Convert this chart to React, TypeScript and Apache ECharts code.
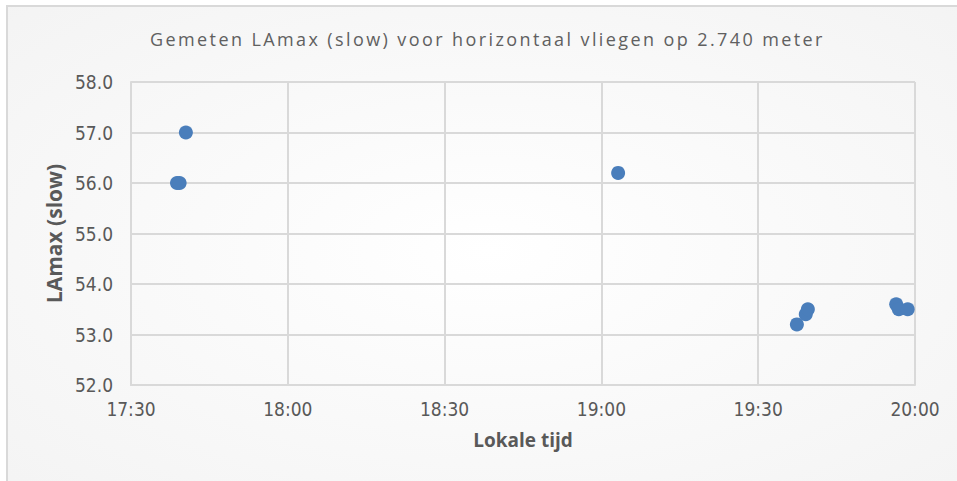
import React, { useEffect, useRef } from "react";
import * as echarts from "echarts";

// local time in minutes after midnight
const timeMinutes = [1058.8, 1059.3, 1060.5, 1143.2, 1177.4, 1179.1, 1179.5, 1196.4, 1196.9, 1198.6];
const lamaxValues = [56.0, 56.0, 57.0, 56.2, 53.2, 53.4, 53.5, 53.6, 53.5, 53.5];

const titleText = "Gemeten LAmax (slow) voor horizontaal vliegen op 2.740 meter";
const xAxisName = "Lokale tijd";
const yAxisName = "LAmax (slow)";

const fmtTime = (v: number) => {
  const h = Math.floor(v / 60);
  const m = Math.round(v - h * 60);
  return `${h}:${m < 10 ? "0" + m : m}`;
};

const labelFont = "'Liberation Sans Narrow', 'DejaVu Sans Condensed', 'Open Sans'";

export default function App() {
  const ref = useRef<HTMLDivElement>(null);
  useEffect(() => {
    if (!ref.current) return;
    const chart = echarts.init(ref.current, undefined, { renderer: "svg" });
    const data = timeMinutes.map((t, i) => [t, lamaxValues[i]]);
    chart.setOption({
      animation: false,
      backgroundColor: "#ffffff",
      graphic: [
        {
          type: "rect",
          z: -10,
          silent: true,
          shape: { x: 7, y: 6, width: 960, height: 490 },
          style: {
            fill: {
              type: "radial",
              x: 0.5,
              y: 0.5,
              r: 0.8,
              colorStops: [
                { offset: 0, color: "#ffffff" },
                { offset: 1, color: "#f2f2f2" },
              ],
            },
            stroke: "#d9d9d9",
            lineWidth: 2,
          },
        },
      ],
      title: {
        text: titleText,
        left: 150,
        top: 30,
        padding: 0,
        textStyle: {
          fontFamily: "Open Sans",
          fontSize: 18,
          fontWeight: "normal",
          color: "#606060",
        },
      },
      grid: { left: 131, right: 42, top: 82, bottom: 96 },
      xAxis: {
        type: "value",
        min: 1050,
        max: 1200,
        interval: 30,
        name: xAxisName,
        nameLocation: "middle",
        nameGap: 45,
        nameTextStyle: { fontFamily: "Open Sans", fontSize: 19, fontWeight: "bold", color: "#595959" },
        axisLine: { show: true, lineStyle: { color: "#d9d9d9", width: 2 } },
        axisTick: { show: false },
        axisLabel: {
          formatter: (v: number) => fmtTime(v),
          fontFamily: labelFont,
          fontSize: 19,
          color: "#595959",
          margin: 14,
          showMinLabel: true,
          showMaxLabel: true,
        },
        splitLine: { show: true, lineStyle: { color: "#d9d9d9", width: 2 } },
      },
      yAxis: {
        type: "value",
        min: 52,
        max: 58,
        interval: 1,
        name: yAxisName,
        nameLocation: "middle",
        nameGap: 66,
        nameTextStyle: { fontFamily: "Open Sans", fontSize: 21, fontWeight: "bold", color: "#595959" },
        axisLine: { show: true, lineStyle: { color: "#d9d9d9", width: 2 } },
        axisTick: { show: false },
        axisLabel: {
          formatter: (v: number) => v.toFixed(1),
          fontFamily: labelFont,
          fontSize: 19,
          color: "#595959",
          margin: 18,
        },
        splitLine: { show: true, lineStyle: { color: "#d9d9d9", width: 2 } },
      },
      series: [
        {
          type: "scatter",
          data,
          symbol: "circle",
          symbolSize: 14,
          itemStyle: { color: "#4a7ebb", opacity: 1 },
        },
      ],
    });
    ref.current.querySelectorAll("text").forEach((t) => {
      if (t.textContent === titleText) t.setAttribute("letter-spacing", "2.4px");
    });
    return () => chart.dispose();
  }, []);
  return <div ref={ref} style={{ position: "fixed", left: 0, top: 0, width: 957, height: 481 }} />;
}
